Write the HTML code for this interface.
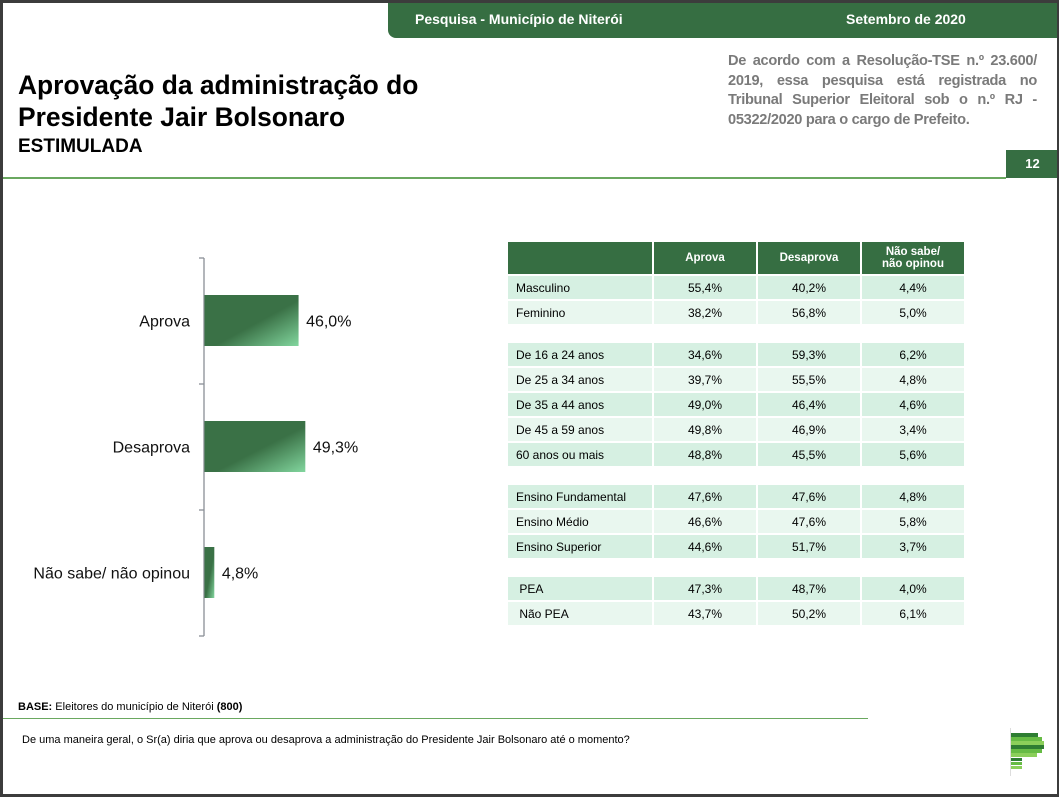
<!DOCTYPE html>
<html><head><meta charset="utf-8">
<style>
*{margin:0;padding:0;box-sizing:border-box}
body{width:1059px;height:797px;position:relative;overflow:hidden;background:#fff;font-family:"Liberation Sans",sans-serif;color:#000}
.abs{position:absolute}
.frame{position:absolute;left:0;top:0;width:1059px;height:797px;border:3px solid #3c3c3c;border-right-width:2px;pointer-events:none}
.hdr{left:388px;top:0;width:671px;height:38px;background:#366e42;border-bottom-left-radius:8px;color:#fff;font-weight:bold;font-size:14px}
table{border-collapse:separate;border-spacing:2px;position:absolute;left:506px;top:240px;font-size:12px}
td,th{height:23px;text-align:center;padding:0}
th{background:#366e42;color:#fff;font-size:11.5px;height:32px;line-height:12px}
td.l{text-align:left;padding-left:8px}
tr.a td{background:#d6f0e2}
tr.b td{background:#e9f7ef}
tr.g td{height:15px;background:#fff}
</style></head><body>
<div class="abs hdr">
 <span class="abs" style="left:27px;top:11px">Pesquisa - Município de Niterói</span>
 <span class="abs" style="left:458px;top:11px">Setembro de 2020</span>
</div>
<div class="abs" style="left:18px;top:69px;font-size:26.4px;font-weight:bold;line-height:32px">Aprovação da administração do<br>Presidente Jair Bolsonaro</div>
<div class="abs" style="left:18px;top:136px;font-size:19px;font-weight:bold">ESTIMULADA</div>
<div class="abs" style="left:728px;top:52px;width:309px;font-size:14.6px;font-weight:bold;color:#7a7a7a;line-height:19.5px;text-align:justify;letter-spacing:-0.3px">De acordo com a Resolução-TSE n.º 23.600/ 2019, essa pesquisa está registrada no Tribunal Superior Eleitoral sob o n.º RJ - 05322/2020 para o cargo de Prefeito.</div>
<div class="abs" style="left:1006px;top:150px;width:53px;height:28px;background:#366e42;color:#fff;font-weight:bold;font-size:13px;text-align:center;line-height:28px">12</div>
<div class="abs" style="left:0;top:177px;width:1006px;height:2px;background:#6aa860"></div>

<svg class="abs" style="left:0;top:0" width="480" height="700" id="chart">
<defs><linearGradient id="gr" x1="0" y1="0" x2="1" y2="1">
<stop offset="0.55" stop-color="#3a7146"/><stop offset="1" stop-color="#82d69e"/></linearGradient></defs>
</svg>

<table>
<tr><th style="width:144px"></th><th style="width:102px">Aprova</th><th style="width:102px">Desaprova</th><th style="width:102px">Não sabe/<br>não opinou</th></tr>
<tr class="a"><td class="l">Masculino</td><td>55,4%</td><td>40,2%</td><td>4,4%</td></tr>
<tr class="b"><td class="l">Feminino</td><td>38,2%</td><td>56,8%</td><td>5,0%</td></tr>
<tr class="g"><td colspan="4"></td></tr>
<tr class="a"><td class="l">De 16 a 24 anos</td><td>34,6%</td><td>59,3%</td><td>6,2%</td></tr>
<tr class="b"><td class="l">De 25 a 34 anos</td><td>39,7%</td><td>55,5%</td><td>4,8%</td></tr>
<tr class="a"><td class="l">De 35 a 44 anos</td><td>49,0%</td><td>46,4%</td><td>4,6%</td></tr>
<tr class="b"><td class="l">De 45 a 59 anos</td><td>49,8%</td><td>46,9%</td><td>3,4%</td></tr>
<tr class="a"><td class="l">60 anos ou mais</td><td>48,8%</td><td>45,5%</td><td>5,6%</td></tr>
<tr class="g"><td colspan="4"></td></tr>
<tr class="a"><td class="l">Ensino Fundamental</td><td>47,6%</td><td>47,6%</td><td>4,8%</td></tr>
<tr class="b"><td class="l">Ensino Médio</td><td>46,6%</td><td>47,6%</td><td>5,8%</td></tr>
<tr class="a"><td class="l">Ensino Superior</td><td>44,6%</td><td>51,7%</td><td>3,7%</td></tr>
<tr class="g"><td colspan="4"></td></tr>
<tr class="a"><td class="l">&nbsp;PEA</td><td>47,3%</td><td>48,7%</td><td>4,0%</td></tr>
<tr class="b"><td class="l">&nbsp;Não PEA</td><td>43,7%</td><td>50,2%</td><td>6,1%</td></tr>
</table>

<div class="abs" style="left:18px;top:701px;font-size:11px"><b>BASE:</b> Eleitores do município de Niterói <b>(800)</b></div>
<div class="abs" style="left:0;top:718px;width:868px;height:1px;background:#6aa860"></div>
<div class="abs" style="left:22px;top:734px;font-size:11px">De uma maneira geral, o Sr(a) diria que aprova ou desaprova a administração do Presidente Jair Bolsonaro até o momento?</div>
<svg class="abs" style="left:1008px;top:728px" width="40" height="50">
<line x1="2.5" y1="0" x2="2.5" y2="48" stroke="#ddd"/>
<rect x="3" y="5" width="27" height="4" fill="#2e7d32"/><rect x="3" y="9" width="31" height="4" fill="#66bb44"/>
<rect x="3" y="13" width="33" height="4" fill="#8bcf5a"/><rect x="3" y="17" width="33" height="4" fill="#2e7d32"/>
<rect x="3" y="21" width="31" height="4" fill="#66bb44"/><rect x="3" y="25" width="26" height="4" fill="#8bcf5a"/>
<rect x="3" y="30" width="11" height="3" fill="#2e7d32"/><rect x="3" y="34" width="11" height="3" fill="#66bb44"/><rect x="3" y="38" width="11" height="3" fill="#8bcf5a"/>
</svg>
<div class="frame"></div>

<script>
const categories = ["Aprova", "Desaprova", "Não sabe/ não opinou"];
const values = [46.0, 49.3, 4.8];
const valueLabels = ["46,0%", "49,3%", "4,8%"];

const svg = document.getElementById('chart');
const NS = 'http://www.w3.org/2000/svg';
const axisX = 204, top0 = 258, bandH = 126;
const xScale = v => v * 2.045;
const yBand = i => top0 + i * bandH;
function mk(t, a) { const e = document.createElementNS(NS, t); for (const k in a) e.setAttribute(k, a[k]); svg.appendChild(e); return e; }
const axis = mk('line', {x1: axisX, y1: top0, x2: axisX, y2: yBand(categories.length), stroke: '#8a8f96', 'stroke-width': 1.3});


for (let i = 0; i <= categories.length; i++) {
  const t = mk('line', {x1: axisX - 5, y1: yBand(i), x2: axisX, y2: yBand(i), stroke: '#8a8f96', 'stroke-width': 1.3});
  
  
}
categories.forEach((c, i) => {
  const y0 = yBand(i) + 37, h = 51, w = xScale(values[i]);
  const r = mk('rect', {x: axisX + 0.5, y: y0, width: w, height: h, fill: 'url(#gr)'});
  
  
  const lab = mk('text', {x: 190, y: y0 + h / 2 + 6, 'text-anchor': 'end', 'font-size': 16, 'font-family': 'Liberation Sans, sans-serif', fill: '#111'});
  lab.textContent = c;
  
  
  const v = mk('text', {x: axisX + w + 8, y: y0 + h / 2 + 6, 'font-size': 16, 'font-family': 'Liberation Sans, sans-serif', fill: '#111'});
  v.textContent = valueLabels[i];
  
  
});
</script>
</body></html>
